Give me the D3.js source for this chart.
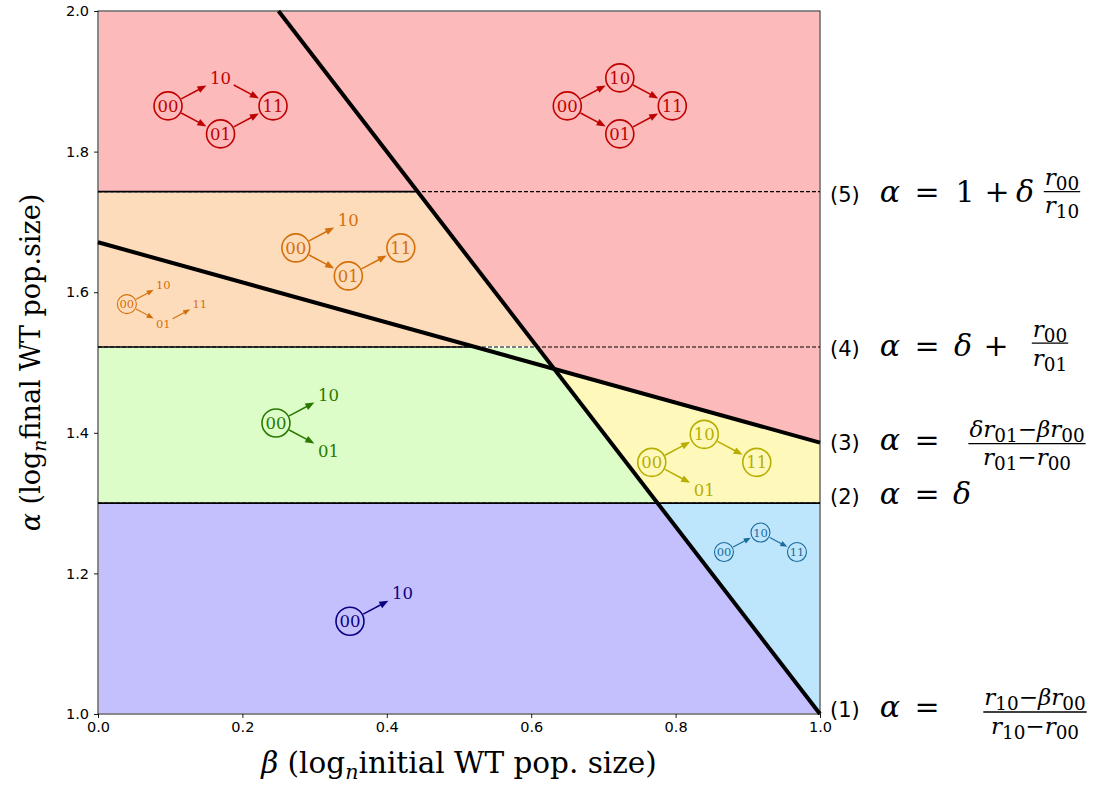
<!DOCTYPE html>
<html>
<head>
<meta charset="utf-8">
<script src="https://cdn.jsdelivr.net/npm/d3@7"></script>
<style>
  body { margin: 0; background: #fff; }
</style>
</head>
<body>
<svg id="chart" width="1109" height="785"></svg>
<script>
// ---- data -------------------------------------------------------------
const xTicks = [0.0, 0.2, 0.4, 0.6, 0.8, 1.0];
const yTicks = [1.0, 1.2, 1.4, 1.6, 1.8, 2.0];

// horizontal boundaries (α levels): (5), (4), (2)
const alpha5 = 1.743;
const alpha4 = 1.522;
const alpha2 = 1.300;

// sloped boundaries as [β, α] end points: (1) and (3)
const line1 = [[0.25, 2.0], [1.0, 1.0]];
const line3 = [[0.0, 1.671], [1.0, 1.386]];

// region fills
const fillRed = "#fdbaba";
const fillOrange = "#fddcbc";
const fillGreen = "#dcfcc8";
const fillPurple = "#c4c0fd";
const fillYellow = "#fef9bb";
const fillBlue = "#bde6fd";

// mutant-path diagrams drawn inside each region
const diagrams = [
  { color: "#bf0000", at: [0.097, 1.865], size: "large", circled: ["00", "01", "11"],
    edges: [["00", "10"], ["10", "11"], ["00", "01"], ["01", "11"]] },
  { color: "#bf0000", at: [0.650, 1.865], size: "large", circled: ["00", "10", "01", "11"],
    edges: [["00", "10"], ["10", "11"], ["00", "01"], ["01", "11"]] },
  { color: "#d4700c", at: [0.274, 1.663], size: "large", circled: ["00", "01", "11"],
    edges: [["00", "10"], ["00", "01"], ["01", "11"]] },
  { color: "#d4700c", at: [0.040, 1.583], size: "small", circled: ["00"],
    edges: [["00", "10"], ["00", "01"], ["01", "11"]] },
  { color: "#2a7800", at: [0.2465, 1.414], size: "large", circled: ["00"],
    edges: [["00", "10"], ["00", "01"]] },
  { color: "#0a0080", at: [0.349, 1.132], size: "large", circled: ["00"],
    edges: [["00", "10"]] },
  { color: "#b8ae00", at: [0.767, 1.358], size: "large", circled: ["00", "10", "11"],
    edges: [["00", "10"], ["10", "11"], ["00", "01"]] },
  { color: "#1a6a9a", at: [0.867, 1.2304], size: "small", circled: ["00", "10", "11"],
    edges: [["00", "10"], ["10", "11"]] }
];

// ---- layout -----------------------------------------------------------
const svg = d3.select("#chart");
const margin = { left: 98, right: 289, top: 11, bottom: 71 };
const W = 1109, H = 785;
const x = d3.scaleLinear().domain([0, 1]).range([margin.left, W - margin.right]);
const y = d3.scaleLinear().domain([1, 2]).range([H - margin.bottom, margin.top]);

// α on a sloped boundary at a given β
const lineAt = (ln, b) => {
  const [[b0, a0], [b1, a1]] = ln;
  return a0 + (a1 - a0) * (b - b0) / (b1 - b0);
};
// β where a sloped boundary reaches a given α
const lineBeta = (ln, a) => {
  const [[b0, a0], [b1, a1]] = ln;
  return b0 + (b1 - b0) * (a - a0) / (a1 - a0);
};

// half-planes (f(p) >= 0 keeps the point)
const aboveH = a => p => p[1] - a;
const belowH = a => p => a - p[1];
const aboveL = ln => p => p[1] - lineAt(ln, p[0]);
const belowL = ln => p => lineAt(ln, p[0]) - p[1];

function clip(poly, f) {
  const out = [];
  for (let i = 0; i < poly.length; i++) {
    const p = poly[i], q = poly[(i + 1) % poly.length];
    const fp = f(p), fq = f(q);
    if (fp >= 0) out.push(p);
    if ((fp >= 0) !== (fq >= 0)) {
      const t = fp / (fp - fq);
      out.push([p[0] + t * (q[0] - p[0]), p[1] + t * (q[1] - p[1])]);
    }
  }
  return out;
}
const domainRect = [[0, 1], [1, 1], [1, 2], [0, 2]];

const regions = [
  { fill: fillRed,    planes: [aboveH(alpha5), belowL(line1)] },
  { fill: fillRed,    planes: [aboveL(line1), aboveL(line3)] },
  { fill: fillOrange, planes: [aboveH(alpha4), belowH(alpha5), belowL(line1)] },
  { fill: fillGreen,  planes: [aboveH(alpha2), belowH(alpha4), belowL(line1)] },
  { fill: fillPurple, planes: [belowH(alpha2), belowL(line1)] },
  { fill: fillYellow, planes: [aboveL(line1), belowL(line3), aboveH(alpha2)] },
  { fill: fillBlue,   planes: [aboveL(line1), belowH(alpha2)] }
];
regions.forEach(r => { r.poly = r.planes.reduce(clip, domainRect); });

const plot = svg.append("g");
const toPath = d3.line().x(d => x(d[0])).y(d => y(d[1]));

plot.selectAll("path.region")
  .data(regions)
  .join("path")
  .attr("class", "region")
  .attr("d", d => toPath(d.poly) + "Z")
  .attr("fill", d => d.fill)
  .attr("stroke", "#fff")
  .attr("stroke-width", 1.5);

// dashed guides across the whole width
plot.selectAll("line.guide")
  .data([alpha5, alpha4, alpha2])
  .join("line")
  .attr("class", "guide")
  .attr("x1", x(0)).attr("x2", x(1))
  .attr("y1", d => y(d)).attr("y2", d => y(d))
  .attr("stroke", "#000")
  .attr("stroke-width", 1.1)
  .attr("stroke-dasharray", "4,2");

// solid parts of the horizontal boundaries
const solidParts = [
  { a: alpha5, b0: 0, b1: lineBeta(line1, alpha5) },
  { a: alpha4, b0: 0, b1: lineBeta(line3, alpha4) },
  { a: alpha2, b0: 0, b1: 1 }
];
plot.selectAll("line.solid")
  .data(solidParts)
  .join("line")
  .attr("class", "solid")
  .attr("x1", d => x(d.b0)).attr("x2", d => x(d.b1))
  .attr("y1", d => y(d.a)).attr("y2", d => y(d.a))
  .attr("stroke", "#000")
  .attr("stroke-width", 1.6);

// thick sloped boundaries
plot.selectAll("path.bound")
  .data([line1, line3])
  .join("path")
  .attr("class", "bound")
  .attr("d", d => toPath(d))
  .attr("fill", "none")
  .attr("stroke", "#000")
  .attr("stroke-width", 4);

// ---- diagrams ---------------------------------------------------------
const grid = { "00": [0, 0], "10": [1, -1], "01": [1, 1], "11": [2, 0] };
const sizing = {
  large: { dx: 52.5, dy: 28, r: 14, font: 16.5, off: 15, endOff: 16, head: 9, hw: 3.6, lw: 1.5, sw: 1.6 },
  small: { dx: 36.5, dy: 19.5, r: 9.5, font: 11.5, off: 10.5, endOff: 11, head: 7, hw: 2.8, lw: 1.1, sw: 1.1 }
};

const dg = svg.append("g");
diagrams.forEach(d => {
  const s = sizing[d.size];
  const ox = x(d.at[0]), oy = y(d.at[1]);
  const pos = k => [ox + grid[k][0] * s.dx, oy + grid[k][1] * s.dy];
  const g = dg.append("g");
  const nodes = Array.from(new Set(d.edges.flat()));

  d.edges.forEach(([a, b]) => {
    const p = pos(a), q = pos(b);
    const len = Math.hypot(q[0] - p[0], q[1] - p[1]);
    const ux = (q[0] - p[0]) / len, uy = (q[1] - p[1]) / len;
    const sx = p[0] + ux * s.off, sy = p[1] + uy * s.off;
    const tx = q[0] - ux * s.endOff, ty = q[1] - uy * s.endOff;
    const bx = tx - ux * s.head, by = ty - uy * s.head;
    g.append("line")
      .attr("x1", sx).attr("y1", sy)
      .attr("x2", bx + ux * 2).attr("y2", by + uy * 2)
      .attr("stroke", d.color).attr("stroke-width", s.lw);
    g.append("path")
      .attr("d", `M${tx},${ty}L${bx - uy * s.hw},${by + ux * s.hw}L${bx + uy * s.hw},${by - ux * s.hw}Z`)
      .attr("fill", d.color);
  });

  nodes.forEach(k => {
    const [px, py] = pos(k);
    if (d.circled.includes(k)) {
      g.append("circle")
        .attr("cx", px).attr("cy", py).attr("r", s.r)
        .attr("fill", "none").attr("stroke", d.color).attr("stroke-width", s.sw);
    }
    g.append("text")
      .attr("x", px).attr("y", py)
      .attr("dy", "0.36em")
      .attr("text-anchor", "middle")
      .attr("font-family", "DejaVu Serif")
      .attr("font-size", s.font)
      .attr("fill", d.color)
      .text(k);
  });
});

// ---- axes -------------------------------------------------------------
const xAxis = svg.append("g")
  .attr("transform", `translate(0,${y(1)})`)
  .call(d3.axisBottom(x).tickValues(xTicks).tickFormat(d3.format(".1f")).tickSize(4).tickPadding(4));
const yAxis = svg.append("g")
  .attr("transform", `translate(${x(0)},0)`)
  .call(d3.axisLeft(y).tickValues(yTicks).tickFormat(d3.format(".1f")).tickSize(4).tickPadding(5));
[xAxis, yAxis].forEach(a => {
  a.attr("font-size", null).attr("font-family", null);
  a.select(".domain").remove();
  a.selectAll("text")
    .style("font-family", "DejaVu Sans")
    .style("font-size", "14.5px")
    .attr("fill", "#000");
  a.selectAll("line").attr("stroke", "#000").attr("stroke-width", 0.9);
});

svg.append("rect")
  .attr("x", x(0)).attr("y", y(2))
  .attr("width", x(1) - x(0)).attr("height", y(1) - y(2))
  .attr("fill", "none").attr("stroke", "#000").attr("stroke-width", 0.9);

// ---- rich text helper (italic symbols, subscripts) -------------------
function rich(sel, pieces, size, subRatio = 0.7) {
  let shifted = 0;
  pieces.forEach(p => {
    const t = sel.append("tspan").text(p.t);
    const want = p.sub ? size * 0.22 : 0;
    if (want !== shifted) { t.attr("dy", want - shifted); shifted = want; }
    t.attr("font-size", p.sub ? size * subRatio : size);
    if (p.it) t.attr("font-style", "italic");
  });
  return sel;
}

// axis titles
rich(svg.append("text")
    .attr("x", (x(0) + x(1)) / 2).attr("y", 773)
    .attr("text-anchor", "middle")
    .attr("font-family", "DejaVu Serif"),
  [{ t: "β", it: true }, { t: " (log" }, { t: "n", it: true, sub: true }, { t: "initial WT pop. size)" }], 29.5);

rich(svg.append("text")
    .attr("transform", `translate(40,${(y(1) + y(2)) / 2}) rotate(-90)`)
    .attr("text-anchor", "middle")
    .attr("font-family", "DejaVu Serif"),
  [{ t: "α", it: true }, { t: " (log" }, { t: "n", it: true, sub: true }, { t: "final WT pop.size)" }], 27);

// ---- boundary equations at the right -------------------------------
const eq = svg.append("g").attr("font-family", "DejaVu Serif");
const MATH = 30, FR = 23, SUB = 0.8;
const labelX = x(1) + 10;

function eqLabel(num, base) {
  eq.append("text").attr("x", labelX).attr("y", base)
    .attr("font-family", "DejaVu Sans").attr("font-size", 21).text(`(${num})`);
}
function sym(cx, base, t, it) {
  const s = eq.append("text").attr("x", cx).attr("y", base)
    .attr("text-anchor", "middle").attr("font-size", MATH).text(t);
  if (it) s.attr("font-style", "italic");
}
function frac(cx, barY, numP, denP, numBase, denBase) {
  const n = rich(eq.append("text").attr("x", cx).attr("y", numBase).attr("text-anchor", "middle"), numP, FR, SUB);
  const dd = rich(eq.append("text").attr("x", cx).attr("y", denBase).attr("text-anchor", "middle"), denP, FR, SUB);
  const w = Math.max(n.node().getComputedTextLength(), dd.node().getComputedTextLength()) + 2;
  eq.append("line").attr("x1", cx - w / 2).attr("x2", cx + w / 2)
    .attr("y1", barY).attr("y2", barY).attr("stroke", "#000").attr("stroke-width", 1.3);
}
const r = s => [{ t: "r", it: true }, { t: s, sub: true }];
const minus = { t: "−" };

// (5) α = 1 + δ r00/r10
{
  const ly = y(alpha5), base = ly + 10;
  eqLabel(5, base);
  sym(890, base, "α", true); sym(927, base, "="); sym(965, base, "1");
  sym(997, base, "+"); sym(1025, base, "δ", true);
  frac(1062, ly, r("00"), r("10"), ly - 7, ly + 21);
}
// (4) α = δ + r00/r01
{
  const ly = y(alpha4), base = ly + 9;
  eqLabel(4, base);
  sym(890, base, "α", true); sym(927, base, "="); sym(963, base, "δ", true);
  sym(996, base, "+");
  frac(1050, ly - 4, r("00"), r("01"), ly - 10, ly + 19);
}
// (3) α = (δ r01 − β r00)/(r01 − r00)
{
  const ly = y(line3[1][1]), base = ly + 7;
  eqLabel(3, base);
  sym(890, base, "α", true); sym(927, base, "=");
  frac(1027, ly + 1,
    [{ t: "δ", it: true }, ...r("01"), minus, { t: "β", it: true }, ...r("00")],
    [...r("01"), minus, ...r("00")], ly - 6, ly + 22);
}
// (2) α = δ
{
  const ly = y(alpha2), base = ly + 1;
  eqLabel(2, base);
  sym(890, base, "α", true); sym(927, base, "="); sym(962, base, "δ", true);
}
// (1) α = (r10 − β r00)/(r10 − r00)
{
  const ly = y(line1[1][1]), base = ly + 3;
  eqLabel(1, base);
  sym(890, base, "α", true); sym(927, base, "=");
  frac(1035, ly - 2,
    [...r("10"), minus, { t: "β", it: true }, ...r("00")],
    [...r("10"), minus, ...r("00")], ly - 9, ly + 20);
}
</script>
</body>
</html>
